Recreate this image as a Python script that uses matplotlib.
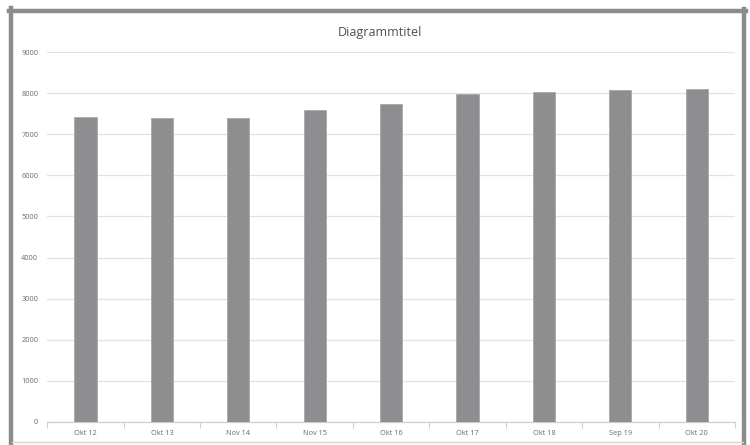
import numpy as np
import matplotlib.pyplot as plt
from matplotlib.lines import Line2D

categories = ["Okt 12", "Okt 13", "Nov 14", "Nov 15", "Okt 16", "Okt 17", "Okt 18", "Sep 19", "Okt 20"]
values = [7420, 7400, 7390, 7590, 7740, 7970, 8020, 8080, 8090]
y_ticks = [0, 1000, 2000, 3000, 4000, 5000, 6000, 7000, 8000, 9000]

plt.rcParams["font.family"] = ["Open Sans", "DejaVu Sans"]

fig = plt.figure(figsize=(7.5, 4.45), dpi=100)
ax = fig.add_axes([0.063, 0.052, 0.917, 0.831])

x = np.arange(len(categories))
ax.bar(x, values, width=0.29, color="#8e8e90", edgecolor="#a9a9ab", linewidth=0.6, zorder=3)

ax.set_xlim(-0.5, len(categories) - 0.5)
ax.set_ylim(0, 9000)
ax.set_yticks(y_ticks)
ax.set_yticklabels([str(v) for v in y_ticks])
ax.set_xticks(x)
ax.set_xticklabels(categories)
ax.set_xticks(np.arange(len(categories) + 1) - 0.5, minor=True)

ax.grid(axis="y", color="#e2e2e2", linewidth=0.9, zorder=0)
for side in ["top", "right", "left"]:
    ax.spines[side].set_visible(False)
ax.spines["bottom"].set_color("#cfcfcf")
ax.spines["bottom"].set_linewidth(0.9)

ax.tick_params(axis="y", length=0, labelsize=5.3, labelcolor="#6a6a6a", pad=6.5)
ax.tick_params(axis="x", which="major", length=0, labelsize=5.3, labelcolor="#6a6a6a", pad=6)
ax.tick_params(axis="x", which="minor", length=4, color="#cfcfcf", width=0.8)

fig.text(0.507, 0.928, "Diagrammtitel", ha="center", va="center", fontsize=9, color="#505050")

# frame around the chart: heavy grey on top/left/right, light line at the bottom
W, H = 750, 445
def fx(px):
    return px / W
def fy(py):
    return 1 - py / H
frame = "#8c8c8c"
fig.lines.append(Line2D([fx(10.5), fx(10.5)], [fy(8), fy(445)], transform=fig.transFigure, color=frame, lw=3.2))
fig.lines.append(Line2D([fx(9), fx(746)], [fy(10.5), fy(10.5)], transform=fig.transFigure, color=frame, lw=3.2))
fig.lines.append(Line2D([fx(744), fx(744)], [fy(9), fy(445)], transform=fig.transFigure, color=frame, lw=3.2))
fig.lines.append(Line2D([fx(12), fx(743)], [fy(442), fy(442)], transform=fig.transFigure, color="#d6d6d6", lw=1.0))

fig.savefig("out.png", dpi=100)
